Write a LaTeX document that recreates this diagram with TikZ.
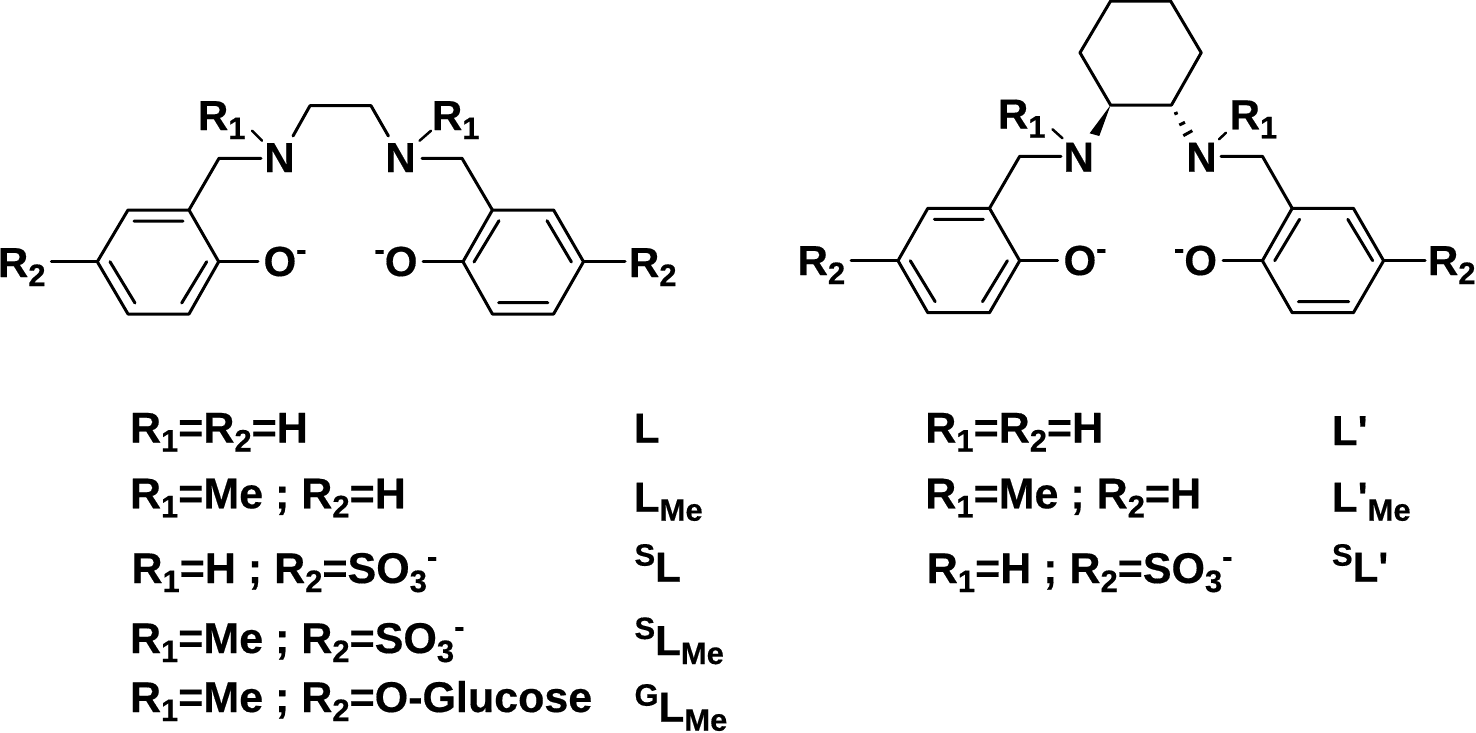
\documentclass[tikz,border=0pt]{standalone}
\usepackage{fontspec}
\setmainfont{Liberation Sans}[BoldFont={Liberation Sans Bold},BoldFeatures={FakeBold=0.4}]
\newfontfamily\aposfont{Liberation Sans}[BoldFont={Liberation Sans Bold},BoldFeatures={FakeBold=0.4}]
\newcommand{\subsc}[1]{\raisebox{-9pt}{\fontsize{31}{31}\selectfont #1}}
\newcommand{\supsc}[1]{\raisebox{16pt}{\fontsize{31}{31}\selectfont #1}}
\newcommand{\atomR}[1]{R\subsc{#1}}
\newcommand{\compSub}[2]{#1\raisebox{-9pt}{\fontsize{31}{31}\selectfont #2}}
\newcommand{\apos}{{\aposfont\bfseries\char39 }}
\tikzset{
  bond/.style={line width=3pt,line cap=round,line join=round,black},
  atom/.style={anchor=base west,inner sep=0pt,outer sep=0pt,font=\fontsize{42}{42}\selectfont\bfseries},
  rowtext/.style={atom,font=\fontsize{43}{43}\selectfont\bfseries}
}
\begin{document}
\begin{tikzpicture}[x=1pt,y=-1pt]
\useasboundingbox (0,0) rectangle (1476,732);
% ---- left molecule ----
\foreach \n/\x/\y in {a1/97.3/261.7,a2/128/210,a3/189/210,a4/218.7/261.7,a5/189/314,a6/128/314,
  b1/463/261.7,b2/492.4/210,b3/553.6/210,b4/583.5/261.7,b5/553.6/314,b6/492.4/314,
  c1/219/158.3,c2/462/158.3,e1/310/105.7,e2/371/105.7}
  {\coordinate (\n) at (\x,\y);}
\draw[bond] (a1)--(a2)--(a3)--(a4)--(a5)--(a6)--cycle;
\draw[bond] (b1)--(b2)--(b3)--(b4)--(b5)--(b6)--cycle;
\coordinate (ia1) at (134,221); \coordinate (ia2) at (183,221);
\coordinate (ia3) at (110,261.7); \coordinate (ia4) at (135,303);
\coordinate (ia5) at (181.7,303); \coordinate (ia6) at (206.7,261.7);
\coordinate (ib1) at (474,262); \coordinate (ib2) at (499,220.7);
\coordinate (ib3) at (547,220.7); \coordinate (ib4) at (571.4,262);
\coordinate (ib5) at (498.7,302.7); \coordinate (ib6) at (547.8,302.7);
\draw[bond] (ia1)--(ia2) (ia3)--(ia4) (ia5)--(ia6) (ib1)--(ib2) (ib3)--(ib4) (ib5)--(ib6);
\node[atom] (NL) at (264.3,172) {N};
\node[atom] (NR) at (385.4,172) {N};
\node[atom] (R1L) at (198,130) {\atomR{1}};
\node[atom] (R1R) at (432,130) {\atomR{1}};
\node[atom] (R2L) at (-2,277) {\atomR{2}};
\node[atom] (R2R) at (629,277) {\atomR{2}};
\node[atom] (OL) at (263.6,276) {O\supsc{-}};
\node[atom] (OR) at (374.5,276) {\supsc{-}O};
\coordinate (nl1) at (261,158.3); \coordinate (nl2) at (293,136);
\coordinate (nr1) at (422,158.3); \coordinate (nr2) at (388.4,136);
\coordinate (rl1) at (252,130.7); \coordinate (rl2) at (262,140.7);
\coordinate (rr1) at (431,130.7); \coordinate (rr2) at (419.6,140.7);
\coordinate (s1) at (51.3,261.7); \coordinate (s2) at (625,261.7);
\coordinate (o1) at (258,261.7); \coordinate (o2) at (423,261.7);
\draw[bond] (a3)--(c1)--(nl1) (nl2)--(e1)--(e2)--(nr2) (nr1)--(c2)--(b2);
\draw[bond,line width=2.5pt] (rl1)--(rl2) (rr1)--(rr2);
\draw[bond] (s1)--(a1) (b4)--(s2) (a4)--(o1) (o2)--(b1);
% ---- right molecule ----
\foreach \n/\x/\y in {h1/1110.6/1,h2/1170.6/1,h3/1201.2/52.7,h4/1171.5/105,h5/1110.6/105,h6/1080/52.7,
  p1/898/260.7,p2/927.8/208.3,p3/989.5/208.3,p4/1019.7/260.7,p5/989.5/312.7,p6/927.8/312.7,
  q1/1262.4/260.7,q2/1292.2/208.3,q3/1353.4/208.3,q4/1383.6/260.7,q5/1353.4/312.7,q6/1292.2/312.7,
  d1/1019.7/156.3,d2/1262.4/156.3}
  {\coordinate (\n) at (\x,\y);}
\draw[bond] (h1)--(h2)--(h3)--(h4)--(h5)--(h6)--cycle;
\draw[bond] (p1)--(p2)--(p3)--(p4)--(p5)--(p6)--cycle;
\draw[bond] (q1)--(q2)--(q3)--(q4)--(q5)--(q6)--cycle;
\coordinate (ip1) at (934.4,219.3); \coordinate (ip2) at (983.4,219.3);
\coordinate (ip3) at (910.3,260.7); \coordinate (ip4) at (935.2,301.7);
\coordinate (ip5) at (982.5,301.7); \coordinate (ip6) at (1007.4,260.7);
\coordinate (iq1) at (1274.7,260.7); \coordinate (iq2) at (1299.6,219.3);
\coordinate (iq3) at (1347.8,219.3); \coordinate (iq4) at (1372.7,260.7);
\coordinate (iq5) at (1298.3,301.7); \coordinate (iq6) at (1348.7,301.7);
\draw[bond] (ip1)--(ip2) (ip3)--(ip4) (ip5)--(ip6) (iq1)--(iq2) (iq3)--(iq4) (iq5)--(iq6);
\node[atom] (NLp) at (1063.5,171.7) {N};
\node[atom] (NRp) at (1186.3,171.7) {N};
\node[atom] (R1Lp) at (998,128.5) {\atomR{1}};
\node[atom] (R1Rp) at (1229.7,129.3) {\atomR{1}};
\node[atom] (R2Lp) at (797.6,275) {\atomR{2}};
\node[atom] (R2Rp) at (1428,275) {\atomR{2}};
\node[atom] (OLp) at (1063.6,275) {O\supsc{-}};
\node[atom] (ORp) at (1174,275) {\supsc{-}O};
\coordinate (nlp) at (1061,156.3); \coordinate (nrp) at (1221,156.3);
\coordinate (rlp1) at (1052.5,129.3); \coordinate (rlp2) at (1062.5,138.3);
\coordinate (rrp1) at (1226,132.7); \coordinate (rrp2) at (1219,139.3);
\coordinate (sp1) at (851.2,260.7); \coordinate (sp2) at (1425.2,260.7);
\coordinate (op1) at (1057.7,260.7); \coordinate (op2) at (1223,260.7);
\draw[bond] (p3)--(d1)--(nlp) (nrp)--(d2)--(q2);
\draw[bond,line width=2.5pt] (rlp1)--(rlp2) (rrp1)--(rrp2);
\draw[bond] (sp1)--(p1) (q4)--(sp2) (p4)--(op1) (op2)--(q1);
% wedge
\coordinate (w1) at (1089.6,133.3); \coordinate (w2) at (1099.3,136);
\fill[black] (h5)--(w1)--(w2)--cycle;
% hash
\coordinate (t1) at (1174.3,114); \coordinate (t1b) at (1177.7,112.7);
\coordinate (t2) at (1179.3,125); \coordinate (t2b) at (1185,122.3);
\coordinate (t3) at (1183.3,135.7); \coordinate (t3b) at (1192.3,130.7);
\draw[bond,line cap=butt] (t1)--(t1b) (t2)--(t2b) (t3)--(t3b);
% ---- left table ----
\node[rowtext] (r1) at (130,442.5) {\atomR{1}=\atomR{2}=H};
\node[rowtext] (r2) at (130,508.3) {\atomR{1}=Me ; \atomR{2}=H};
\node[rowtext] (r3) at (131.5,583) {\atomR{1}=H ; \atomR{2}=SO\subsc{3}\supsc{-}};
\node[rowtext] (r4) at (130,653) {\atomR{1}=Me ; \atomR{2}=SO\subsc{3}\supsc{-}};
\node[rowtext] (r5) at (130,712) {\atomR{1}=Me ; \atomR{2}=O-Glucose};
\node[atom] (l1) at (634,442.5) {L};
\node[atom] (l2) at (634,511.7) {\compSub{L}{Me}};
\node[atom] (l3) at (634.5,581.7) {\supsc{S}L};
\node[atom] (l4) at (634.5,655) {\supsc{S}\compSub{L}{Me}};
\node[atom] (l5) at (634.5,721.7) {\supsc{G}\compSub{L}{Me}};
% ---- right table ----
\node[rowtext] (rp1) at (925.3,442.5) {\atomR{1}=\atomR{2}=H};
\node[rowtext] (rp2) at (925.3,508.3) {\atomR{1}=Me ; \atomR{2}=H};
\node[rowtext] (rp3) at (926.8,583) {\atomR{1}=H ; \atomR{2}=SO\subsc{3}\supsc{-}};
\node[atom] (lp1) at (1332,445) {L\apos};
\node[atom] (lp2) at (1332,511.7) {\compSub{L\apos}{Me}};
\node[atom] (lp3) at (1332,581.7) {\supsc{S}L\apos};
\end{tikzpicture}
\end{document}
